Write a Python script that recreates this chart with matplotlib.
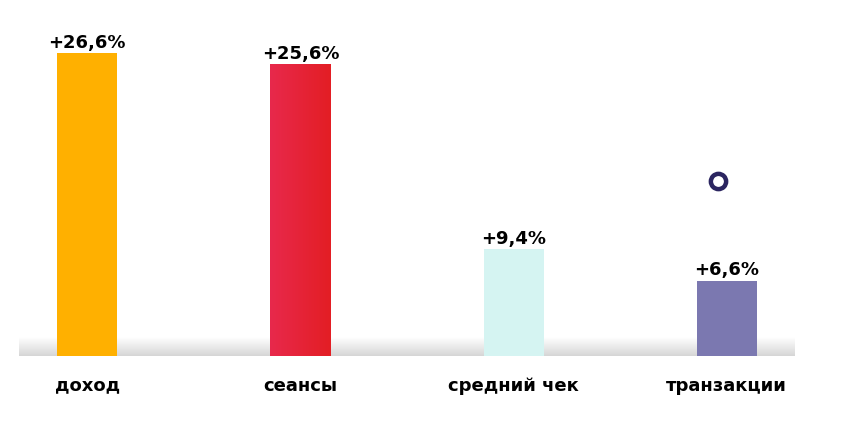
import numpy as np
import matplotlib
matplotlib.use("Agg")
import matplotlib.pyplot as plt
from matplotlib.colors import LinearSegmentedColormap

categories = ["доход", "сеансы", "средний чек", "транзакции"]
values = [26.6, 25.6, 9.4, 6.6]
value_labels = ["+26,6%", "+25,6%", "+9,4%", "+6,6%"]
colors = ["#FFB000", "#E5243B", "#D5F4F2", "#7B78B0"]
marker_x = [2.96]
marker_y = [15.4]

plt.rcParams['font.family'] = ['DejaVu Sans']

fig = plt.figure(figsize=(8.54, 4.37), dpi=100)
ax = fig.add_axes([19/854, (437-356)/437, (795-19)/854, 356/437])
ax.set_xlim(-0.32, 3.32)
ax.set_ylim(0, 31.25)
ax.axis('off')

# floor gradient band (gray at the bottom fading to white at the top)
grad = np.linspace(1, 0, 100).reshape(-1, 1)
floor_cmap = LinearSegmentedColormap.from_list("floor", ["#FFFFFF", "#D6D6D6"])
ax.imshow(grad, cmap=floor_cmap, extent=(-0.32, 3.32, 0, 1.6), aspect='auto',
          origin='lower', zorder=0)

x = np.arange(len(categories))
bars = ax.bar(x, values, width=0.282, color=colors, zorder=2)

# red bar horizontal gradient
red_cmap = LinearSegmentedColormap.from_list("red", ["#E8294C", "#E31E24"])
b = bars[1]
hg = np.linspace(0, 1, 100).reshape(1, -1)
im = ax.imshow(hg, cmap=red_cmap, extent=(b.get_x(), b.get_x() + b.get_width(), 0, b.get_height()),
               aspect='auto', zorder=3)
im.set_clip_path(b)

for xi, v, lab in zip(x, values, value_labels):
    ax.annotate(lab, (xi, v), xytext=(0, 1), textcoords='offset points',
                ha='center', va='bottom', fontsize=13, fontweight='bold', color='#000000')

for xi, c in zip(x, categories):
    ax.text(xi, -1.8, c, ha='center', va='top', fontsize=13, fontweight='bold',
            color='#000000', clip_on=False)

ax.plot(marker_x, marker_y, 'o', markersize=11, markerfacecolor='white',
        markeredgecolor='#2B2560', markeredgewidth=3.2, zorder=4)

fig.savefig("out.png", dpi=100)
